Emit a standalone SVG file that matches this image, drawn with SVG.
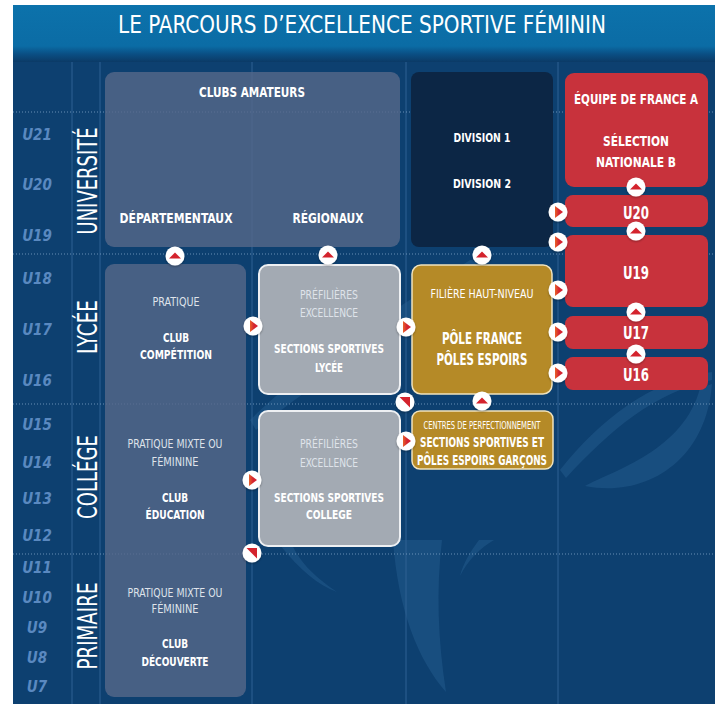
<svg xmlns="http://www.w3.org/2000/svg" width="723" height="704" viewBox="0 0 723 704">
<defs>
  <linearGradient id="hdr" x1="0" y1="0" x2="0" y2="1">
    <stop offset="0" stop-color="#0c72ab"/>
    <stop offset="0.72" stop-color="#0b6ca5"/>
    <stop offset="0.86" stop-color="#0a4f84"/>
    <stop offset="1" stop-color="#0b3a66"/>
  </linearGradient>
  <linearGradient id="tri" x1="0" y1="0" x2="1" y2="0">
    <stop offset="0" stop-color="#e8622a"/>
    <stop offset="0.5" stop-color="#d42330"/>
  </linearGradient>
  <filter id="sh" x="-50%" y="-50%" width="200%" height="200%">
    <feDropShadow dx="0" dy="1" stdDeviation="1" flood-color="#000" flood-opacity="0.35"/>
  </filter>
  <g id="up">
    <circle r="9.5" fill="#fff" filter="url(#sh)"/>
    <polygon points="-6,2.5 6,2.5 0,-3.5" fill="#d4232d"/>
  </g>
  <g id="right">
    <circle r="9.5" fill="#fff" filter="url(#sh)"/>
    <polygon points="-3,-6 -3,6 5,0" fill="url(#tri)"/>
  </g>
  <g id="diag">
    <circle r="9.5" fill="#fff" filter="url(#sh)"/>
    <polygon points="-5.5,-5 5,-5 5,5.5" fill="#d4232d"/>
  </g>
</defs>
<style>
  .t{font-family:"Liberation Sans Narrow","DejaVu Sans Condensed","Liberation Sans",sans-serif;text-anchor:middle;fill:#fff}
  .b{font-weight:bold}
  .h15{font-size:14px}
  .h13{font-size:13px}
  .lt{fill:#dfe3ea}
  .age{font-family:"Liberation Sans Narrow","DejaVu Sans Condensed","Liberation Sans",sans-serif;text-anchor:middle;font-style:italic;font-weight:bold;font-size:15px;fill:#5a89c0}
  .lvl{font-size:26px}
  .slate{fill:#56688a;fill-opacity:0.8}
  .navy{fill:#0c2645}
  .red{fill:#c8323c}
  .grey{fill:#a3aab3;stroke:#eef0f3;stroke-width:2}
  .gold{fill:#b58a27;stroke:#efe2bd;stroke-width:1.5}
  .grid{stroke:#2f6193;stroke-width:1}
  .dot{stroke:#8fb0d2;stroke-opacity:0.7;stroke-width:1;stroke-dasharray:1 2}
  .deco{fill:#3b79ad;fill-opacity:0.25}
</style>

<!-- page and header -->
<rect width="723" height="704" fill="#fff"/>
<rect x="13" y="5" width="702" height="699" fill="#0d4070"/>
<rect x="13" y="5" width="702" height="57" fill="url(#hdr)"/>
<text class="t" x="362" y="33" font-size="25" textLength="488" lengthAdjust="spacingAndGlyphs">LE PARCOURS D’EXCELLENCE SPORTIVE FÉMININ</text>

<!-- background emblem strokes -->
<g id="decor">
  <path class="deco" d="M393,540 C398,610 418,660 446,692 C438,640 436,590 442,540 Z"/>
  <path class="deco" d="M460,576 C468,560 480,548 494,540 L479,540 C470,552 463,564 460,576 Z"/>
  <path class="deco" d="M280,545 C300,570 318,585 337,592 C312,575 298,560 290,540 Z"/>
  <path class="deco" d="M585,486 C615,470 684,450 700,388 L712,384 C706,462 645,498 585,486 Z"/>
  <path class="deco" d="M560,470 C600,420 650,380 712,372 L712,380 C655,392 610,430 566,478 Z"/>
  <path class="deco" d="M250,420 C300,370 380,320 470,260 L490,262 C400,330 310,385 256,430 Z"/>
</g>

<!-- grid -->
<g id="grid">
  <line class="grid" x1="72" y1="62" x2="72" y2="704"/>
  <line class="grid" x1="100" y1="62" x2="100" y2="704"/>
  <line class="grid" x1="252" y1="62" x2="252" y2="704"/>
  <line class="grid" x1="406" y1="62" x2="406" y2="704"/>
  <line class="grid" x1="558" y1="62" x2="558" y2="704"/>
  <line class="dot" x1="13" y1="112" x2="715" y2="112"/>
  <line class="dot" x1="13" y1="254" x2="715" y2="254"/>
  <line class="dot" x1="13" y1="404" x2="715" y2="404"/>
  <line class="dot" x1="13" y1="554" x2="715" y2="554"/>
</g>

<!-- age scale -->
<g id="ages">
  <text class="age" x="37" y="140">U21</text>
  <text class="age" x="37" y="190">U20</text>
  <text class="age" x="37" y="241">U19</text>
  <text class="age" x="37" y="284">U18</text>
  <text class="age" x="37" y="335">U17</text>
  <text class="age" x="37" y="386">U16</text>
  <text class="age" x="37" y="430">U15</text>
  <text class="age" x="37" y="468">U14</text>
  <text class="age" x="37" y="504">U13</text>
  <text class="age" x="37" y="541">U12</text>
  <text class="age" x="37" y="573">U11</text>
  <text class="age" x="37" y="603">U10</text>
  <text class="age" x="37" y="633">U9</text>
  <text class="age" x="37" y="663">U8</text>
  <text class="age" x="37" y="692">U7</text>
</g>

<!-- school levels -->
<g id="levels">
  <text class="t lvl" transform="translate(87.5,181) rotate(-90)" y="9.5" textLength="107" lengthAdjust="spacingAndGlyphs">UNIVERSITÉ</text>
  <text class="t lvl" transform="translate(87.5,327) rotate(-90)" y="9.5" textLength="54" lengthAdjust="spacingAndGlyphs">LYCÉE</text>
  <text class="t lvl" transform="translate(87.5,477) rotate(-90)" y="9.5" textLength="84" lengthAdjust="spacingAndGlyphs">COLLÉGE</text>
  <text class="t lvl" transform="translate(87.5,626) rotate(-90)" y="9.5" textLength="87" lengthAdjust="spacingAndGlyphs">PRIMAIRE</text>
</g>

<!-- nodes -->
<g id="clubs-amateurs">
  <rect class="slate" x="105" y="72" width="295" height="175" rx="9"/>
  <text class="t b h15" x="252" y="97" textLength="106" lengthAdjust="spacingAndGlyphs">CLUBS AMATEURS</text>
  <text class="t b h15" x="176" y="223" textLength="113" lengthAdjust="spacingAndGlyphs">DÉPARTEMENTAUX</text>
  <text class="t b h15" x="328" y="223" textLength="71" lengthAdjust="spacingAndGlyphs">RÉGIONAUX</text>
</g>

<g id="divisions">
  <rect class="navy" x="411" y="72" width="142" height="175" rx="8"/>
  <text class="t b" font-size="13" x="482" y="142" textLength="57" lengthAdjust="spacingAndGlyphs">DIVISION 1</text>
  <text class="t b" font-size="13" x="482" y="188" textLength="58" lengthAdjust="spacingAndGlyphs">DIVISION 2</text>
</g>

<g id="equipe-france">
  <rect class="red" x="565" y="73" width="143" height="114" rx="9"/>
  <text class="t b h15" x="636" y="104" textLength="124" lengthAdjust="spacingAndGlyphs">ÉQUIPE DE FRANCE A</text>
  <text class="t b h15" x="636" y="146" textLength="66" lengthAdjust="spacingAndGlyphs">SÉLECTION</text>
  <text class="t b h15" x="636" y="167" textLength="80" lengthAdjust="spacingAndGlyphs">NATIONALE B</text>
</g>

<g id="u20">
  <rect class="red" x="565" y="195" width="143" height="32" rx="8"/>
  <text class="t b" font-size="17" x="636" y="219" textLength="26" lengthAdjust="spacingAndGlyphs">U20</text>
</g>
<g id="u19">
  <rect class="red" x="565" y="235" width="143" height="72" rx="8"/>
  <text class="t b" font-size="17" x="636" y="279" textLength="26" lengthAdjust="spacingAndGlyphs">U19</text>
</g>
<g id="u17">
  <rect class="red" x="565" y="316" width="143" height="33" rx="8"/>
  <text class="t b" font-size="17" x="636" y="339" textLength="26" lengthAdjust="spacingAndGlyphs">U17</text>
</g>
<g id="u16">
  <rect class="red" x="565" y="357" width="143" height="33" rx="8"/>
  <text class="t b" font-size="17" x="636" y="381" textLength="26" lengthAdjust="spacingAndGlyphs">U16</text>
</g>

<g id="clubs-jeunes">
  <rect class="slate" x="105" y="264" width="141" height="433" rx="9"/>
  <text class="t lt h13" x="176" y="306" textLength="47" lengthAdjust="spacingAndGlyphs">PRATIQUE</text>
  <text class="t b h13" x="176" y="342" textLength="26" lengthAdjust="spacingAndGlyphs">CLUB</text>
  <text class="t b h13" x="176" y="359" textLength="72" lengthAdjust="spacingAndGlyphs">COMPÉTITION</text>
  <text class="t lt h13" x="175" y="448" textLength="95" lengthAdjust="spacingAndGlyphs">PRATIQUE MIXTE OU</text>
  <text class="t lt h13" x="175" y="466" textLength="47" lengthAdjust="spacingAndGlyphs">FÉMININE</text>
  <text class="t b h13" x="175" y="502" textLength="26" lengthAdjust="spacingAndGlyphs">CLUB</text>
  <text class="t b h13" x="175" y="519" textLength="59" lengthAdjust="spacingAndGlyphs">ÉDUCATION</text>
  <text class="t lt h13" x="175" y="597" textLength="95" lengthAdjust="spacingAndGlyphs">PRATIQUE MIXTE OU</text>
  <text class="t lt h13" x="175" y="613" textLength="47" lengthAdjust="spacingAndGlyphs">FÉMININE</text>
  <text class="t b h13" x="175" y="648" textLength="26" lengthAdjust="spacingAndGlyphs">CLUB</text>
  <text class="t b h13" x="175" y="666" textLength="67" lengthAdjust="spacingAndGlyphs">DÉCOUVERTE</text>
</g>

<g id="sections-lycee">
  <rect class="grey" x="259" y="265" width="141" height="129" rx="9"/>
  <text class="t lt h13" x="329" y="299" textLength="58" lengthAdjust="spacingAndGlyphs">PRÉFILIÈRES</text>
  <text class="t lt h13" x="329" y="317" textLength="58" lengthAdjust="spacingAndGlyphs">EXCELLENCE</text>
  <text class="t b h13" x="329" y="353" textLength="110" lengthAdjust="spacingAndGlyphs">SECTIONS SPORTIVES</text>
  <text class="t b h13" x="329" y="372" textLength="28" lengthAdjust="spacingAndGlyphs">LYCÉE</text>
</g>

<g id="sections-college">
  <rect class="grey" x="259" y="411" width="141" height="135" rx="9"/>
  <text class="t lt h13" x="329" y="448" textLength="58" lengthAdjust="spacingAndGlyphs">PRÉFILIÈRES</text>
  <text class="t lt h13" x="329" y="467" textLength="58" lengthAdjust="spacingAndGlyphs">EXCELLENCE</text>
  <text class="t b h13" x="329" y="502" textLength="110" lengthAdjust="spacingAndGlyphs">SECTIONS SPORTIVES</text>
  <text class="t b h13" x="329" y="519" textLength="46" lengthAdjust="spacingAndGlyphs">COLLEGE</text>
</g>

<g id="pole-france">
  <rect class="gold" x="412" y="265" width="140" height="129" rx="9"/>
  <text class="t h13" fill="#f4ecd8" x="482" y="298" textLength="103" lengthAdjust="spacingAndGlyphs">FILIÈRE HAUT-NIVEAU</text>
  <text class="t b" font-size="16" x="482" y="344" textLength="80" lengthAdjust="spacingAndGlyphs">PÔLE FRANCE</text>
  <text class="t b" font-size="16" x="482" y="365" textLength="91" lengthAdjust="spacingAndGlyphs">PÔLES ESPOIRS</text>
</g>

<g id="centres-perfectionnement">
  <rect class="gold" x="412" y="411" width="141" height="58" rx="8"/>
  <text class="t" font-size="10" fill="#f4ecd8" x="482" y="428.5" textLength="117" lengthAdjust="spacingAndGlyphs">CENTRES DE PERFECTIONNEMENT</text>
  <text class="t b h15" x="482" y="447" textLength="124" lengthAdjust="spacingAndGlyphs">SECTIONS SPORTIVES ET</text>
  <text class="t b h15" x="482" y="465" textLength="130" lengthAdjust="spacingAndGlyphs">PÔLES ESPOIRS GARÇONS</text>
</g>

<!-- connectors -->
<g id="connectors">
  <use href="#up" x="636" y="187"/>
  <use href="#up" x="636" y="231"/>
  <use href="#up" x="636" y="312"/>
  <use href="#up" x="636" y="354"/>
  <use href="#right" x="558" y="212"/>
  <use href="#right" x="558" y="242"/>
  <use href="#right" x="558" y="290"/>
  <use href="#right" x="558" y="332"/>
  <use href="#right" x="558" y="373"/>
  <use href="#up" x="175" y="256"/>
  <use href="#up" x="328" y="255"/>
  <use href="#up" x="482" y="255"/>
  <use href="#right" x="253" y="326"/>
  <use href="#right" x="406" y="327"/>
  <use href="#diag" x="405" y="402"/>
  <use href="#up" x="482" y="401"/>
  <use href="#right" x="406" y="441"/>
  <use href="#right" x="252" y="480"/>
  <use href="#diag" x="252" y="553"/>
</g>
</svg>
